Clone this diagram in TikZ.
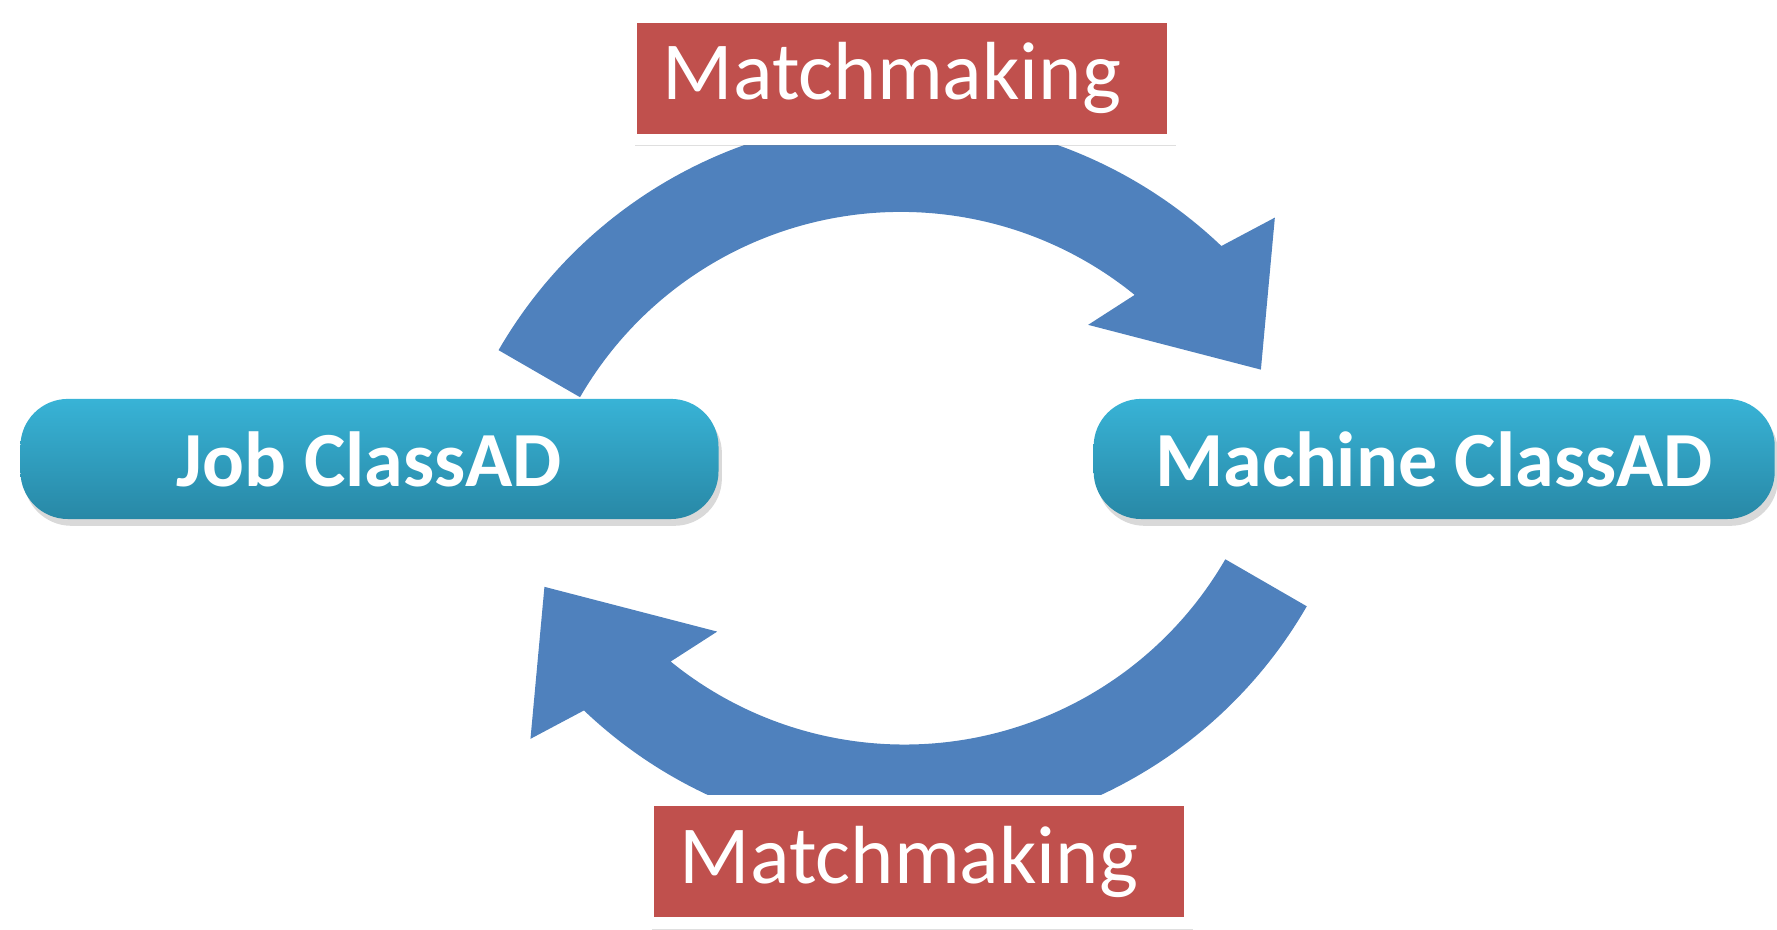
\documentclass[tikz,border=0pt]{standalone}
\usepackage{fontspec}
\setmainfont{Carlito}
\usetikzlibrary{shadows}
\definecolor{arrowblue}{RGB}{79,129,189}
\definecolor{mmred}{RGB}{192,80,77}
\definecolor{adtop}{RGB}{56,179,214}
\definecolor{adbottom}{RGB}{40,136,166}
\newcommand{\cyclearrow}{(150:410) arc[start angle=150, end angle=46.4, radius=410] -- (44.3:461) -- (30.6:369) -- (54:281) -- (50.9:327) arc[start angle=50.9, end angle=150, radius=327] -- cycle}
\begin{document}
\begin{tikzpicture}[x=0.1mm, y=0.1mm,
    classad/.style={rounded corners=4.2mm, top color=adtop, bottom color=adbottom,
        minimum height=10.6mm, text=white, font=\bfseries\fontsize{19.6}{22}\selectfont,
        drop shadow={opacity=0.3, shadow xshift=0.3mm, shadow yshift=-0.6mm}},
    matchbox/.style={fill=mmred, draw=white, line width=1mm, minimum height=10.8mm,
        text width=42.2mm, align=left, inner xsep=2.8mm, text=white,
        font=\fontsize{20.7}{24}\selectfont,
        drop shadow={opacity=0.25, shadow xshift=0.3mm, shadow yshift=-0.6mm}}]
    \useasboundingbox (0,0) rectangle (1568,820);
    % the two curved arrows
    \fill[arrowblue, shift={(795,306)}] \cyclearrow;
    \fill[arrowblue, shift={(798,490)}, rotate=180] \cyclearrow;
    % ads and labels
    \node[classad, minimum width=61.6mm] (job) at (326,415) {Job ClassAD};
    \node[classad, minimum width=60.1mm] (machine) at (1265.5,415) {Machine ClassAD};
    \node[matchbox] (mmtop) at (796,751) {Matchmaking};
    \node[matchbox] (mmbottom) at (811,59.5) {Matchmaking};
\end{tikzpicture}
\end{document}
